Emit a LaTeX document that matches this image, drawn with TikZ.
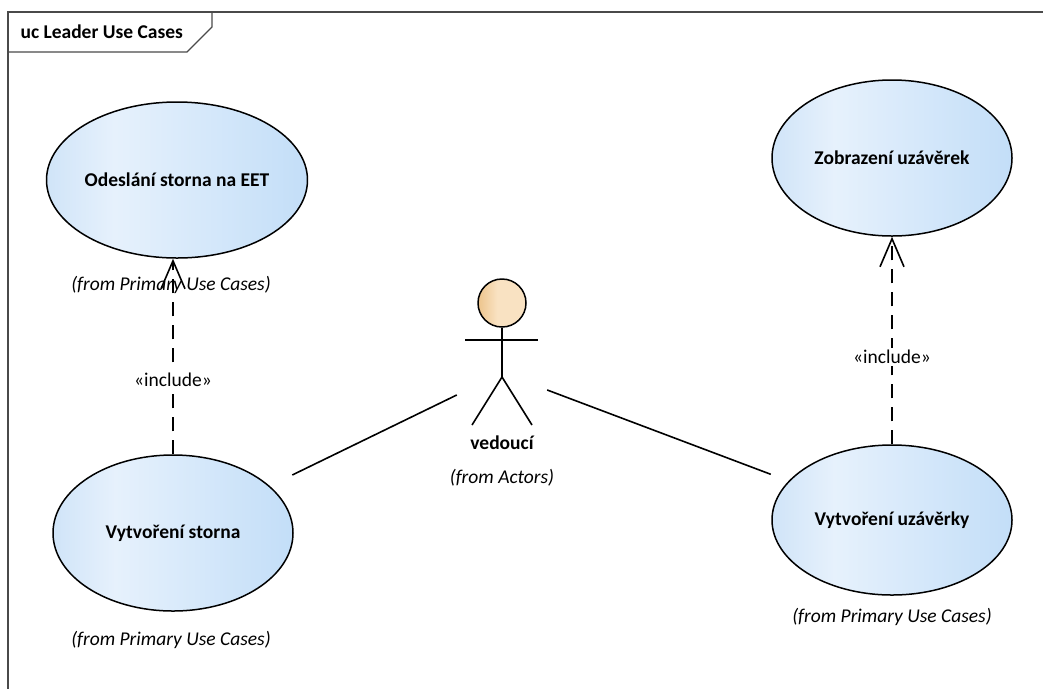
\documentclass[tikz,border=0pt]{standalone}
\usepackage{fontspec}
\setmainfont{Carlito}
\usetikzlibrary{shapes.geometric, arrows.meta, positioning}

\definecolor{caseEdge}{HTML}{D0E4F8}
\definecolor{caseLight}{HTML}{E6F1FC}
\definecolor{caseBlue}{HTML}{C3DEF8}
\definecolor{headDark}{HTML}{EDC48C}
\definecolor{headLight}{HTML}{F9E2C2}
\definecolor{frameGray}{HTML}{4A4A4A}

\pgfdeclarehorizontalshading{caseshade}{100bp}{color(0bp)=(caseEdge); color(25bp)=(caseEdge); color(38bp)=(caseLight); color(75bp)=(caseBlue); color(100bp)=(caseBlue)}
\pgfdeclarehorizontalshading{headshade}{100bp}{color(0bp)=(headDark); color(25bp)=(headDark); color(45bp)=(headLight); color(75bp)=(headLight); color(100bp)=(headLight)}

\tikzstyle{usecase} = [ellipse, draw=black, line width=1.5pt, shade, shading=caseshade, minimum width=240pt, minimum height=156pt, inner sep=0pt, font=\fontsize{19.5}{23}\selectfont\bfseries]
\tikzstyle{fromNote} = [font=\fontsize{19.5}{23}\selectfont\itshape]
\tikzstyle{stereo} = [fill=white, inner sep=2pt, font=\fontsize{19.5}{23}\selectfont]
\tikzstyle{assoc} = [line width=1.6pt]
\tikzstyle{includeArrow} = [line width=1.6pt, dash pattern=on 14pt off 9pt, -{Straight Barb[length=28pt, width=24pt]}]
\tikzstyle{frameLine} = [draw=frameGray, line width=1.3pt]

\begin{document}
\begin{tikzpicture}[x=1pt, y=-1pt]
\useasboundingbox (0,0) rectangle (1043,689);

% Frame
\draw [frameLine] (1043,12) -- (8,12) -- (8,689);
\draw [frameLine] (8,52) -- (187,52) -- (212,27) -- (212,12);
\node (title) [anchor=west, font=\fontsize{19.5}{23}\selectfont\bfseries] at (17,32) {uc Leader Use Cases};

% Use Cases
\node (sendCancel) [usecase, minimum width=248pt] at (177,180) {Odeslání storna na EET};
\node (createCancel) [usecase] at (173,533) {Vytvoření storna};
\node (showClosings) [usecase] at (892,158) {Zobrazení uzávěrek};
\node (createClosing) [usecase, minimum height=150pt] at (892,520) {Vytvoření uzávěrky};

\node (sendCancelFrom) [fromNote] at (171,285) {(from Primary Use Cases)};
\node (createCancelFrom) [fromNote] at (171,640) {(from Primary Use Cases)};
\node (createClosingFrom) [fromNote] at (892,617) {(from Primary Use Cases)};

% Actor
\node (leader) [minimum width=90pt, minimum height=110pt] at (502,373) {};
\node (leaderHead) [circle, draw=black, line width=1.5pt, shade, shading=headshade, minimum size=48pt, inner sep=0pt] at (502,303) {};
\draw [assoc] (leaderHead.south) -- (502,377) coordinate (leaderHip);
\draw [assoc] (465,340) coordinate (armLeft) -- (538,340) coordinate (armRight);
\draw [assoc] (472,425) coordinate (footLeft) -- (leaderHip) -- (532,425) coordinate (footRight);
\node (leaderName) [font=\fontsize{19.5}{23}\selectfont\bfseries] at (502,443) {vedoucí};
\node (leaderFrom) [fromNote] at (502,478) {(from Actors)};

% Associations
\draw [assoc, shorten <=25pt] (createCancel) -- (leader);
\draw [assoc, shorten >=19pt] (leader) -- (createClosing);

% Includes
\draw [includeArrow] (createCancel.north) -- (createCancel.north |- sendCancel.south) node [stereo, pos=0.38] {«include»};
\draw [includeArrow] (createClosing.north) -- (showClosings.south) node [stereo, pos=0.42] {«include»};

\end{tikzpicture}
\end{document}
